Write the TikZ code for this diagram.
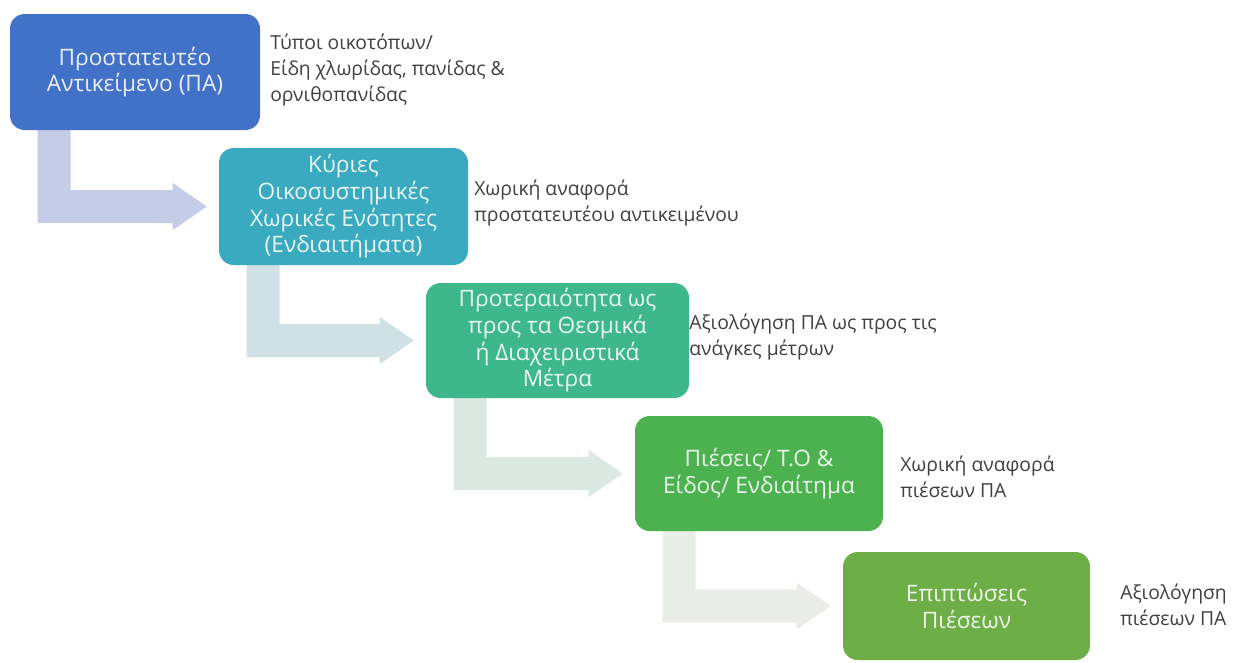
\documentclass[tikz,border=0pt]{standalone}
\usepackage{fontspec}
\setmainfont{Open Sans}
\usetikzlibrary{calc,backgrounds}
\definecolor{cA}{RGB}{66,114,200}
\definecolor{cB}{RGB}{58,170,192}
\definecolor{cC}{RGB}{62,184,138}
\definecolor{cD}{RGB}{76,178,80}
\definecolor{cE}{RGB}{110,174,70}
\definecolor{aA}{RGB}{197,204,232}
\definecolor{aB}{RGB}{208,225,230}
\definecolor{aC}{RGB}{220,233,227}
\definecolor{aD}{RGB}{232,237,232}
\definecolor{lbl}{RGB}{64,64,64}
\newcommand{\elbowarrow}[3]{%
  \fill[#3] ($(#1.south west)+(28,-4)$) -- ($(#1.south west)+(61,-4)$)
    |- ($(#2.west)+(-46,-16.5)$) -- ($(#2.west)+(-46,-23.5)$)
    -- ($(#2.west)+(-12,0)$) -- ($(#2.west)+(-46,23.5)$)
    -- ($(#2.west)+(-46,16.5)$) -| ($(#1.south west)+(28,-4)$) -- cycle;}
\begin{document}
\begin{tikzpicture}[x=0.75pt,y=-0.75pt,
  stagebox/.style={rectangle, rounded corners=11pt, align=center, inner sep=0pt,
    font=\fontsize{17}{20}\selectfont},
  note/.style={anchor=west, align=left, inner sep=0pt, text=lbl,
    font=\fontsize{14.5}{19.5}\selectfont}]
\useasboundingbox (0,0) rectangle (1235,662);
\node[stagebox, fill=cA, text=white!88!cA, minimum width=187.5pt, minimum height=87pt] (b1) at (135,72) {Προστατευτέο\\Αντικείμενο (ΠΑ)};
\node[stagebox, fill=cB, text=white!88!cB, minimum width=186.75pt, minimum height=87.75pt] (b2) at (343.5,206.5) {Κύριες\\Οικοσυστημικές\\Χωρικές Ενότητες\\(Ενδιαιτήματα)};
\node[stagebox, fill=cC, text=white!88!cC, minimum width=197.25pt, minimum height=86.25pt] (b3) at (557.5,340.5) {Προτεραιότητα ως\\προς τα Θεσμικά\\ή Διαχειριστικά\\Μέτρα};
\node[stagebox, fill=cD, text=white!88!cD, minimum width=186pt, minimum height=86.25pt] (b4) at (759,473.5) {Πιέσεις/ Τ.Ο \&\\Είδος/ Ενδιαίτημα};
\node[stagebox, fill=cE, text=white!88!cE, minimum width=185.25pt, minimum height=81pt] (b5) at (966.5,606) {Επιπτώσεις\\Πιέσεων};
\node[note] (n1) at (270,70) {Τύποι οικοτόπων/\\Είδη χλωρίδας, πανίδας \&\\ορνιθοπανίδας};
\node[note] (n2) at (474,203) {Χωρική αναφορά\\προστατευτέου αντικειμένου};
\node[note] (n3) at (689,337) {Αξιολόγηση ΠΑ ως προς τις\\ανάγκες μέτρων};
\node[note] (n4) at (900,477) {Χωρική αναφορά\\πιέσεων ΠΑ};
\node[note] (n5) at (1120,605) {Αξιολόγηση\\πιέσεων ΠΑ};
\begin{scope}[on background layer]
\elbowarrow{b1}{b2}{aA}
\elbowarrow{b2}{b3}{aB}
\elbowarrow{b3}{b4}{aC}
\elbowarrow{b4}{b5}{aD}
\end{scope}
\end{tikzpicture}
\end{document}
